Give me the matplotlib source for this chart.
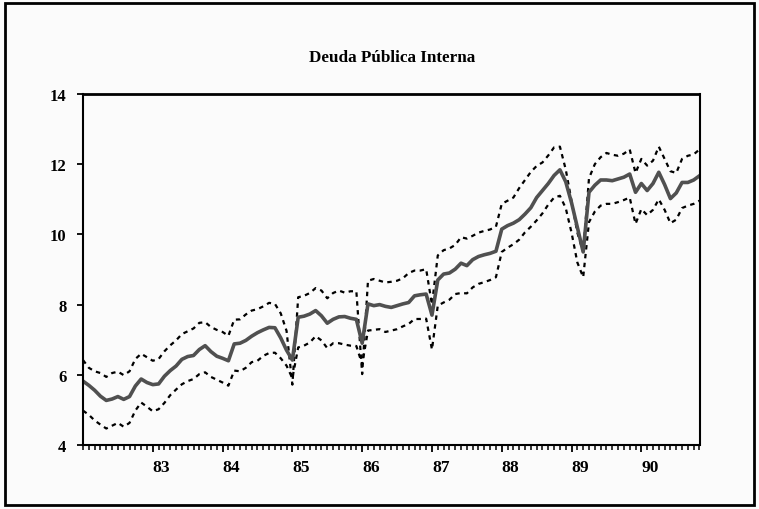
import numpy as np
import matplotlib
matplotlib.use('Agg')
import matplotlib.pyplot as plt
from matplotlib.patches import Rectangle

# Serie mensual 1982:01 - 1990:11
anios = ['83', '84', '85', '86', '87', '88', '89', '90']

centro = [5.82, 5.70, 5.56, 5.39, 5.27, 5.31, 5.38, 5.30, 5.38, 5.68,
          5.88, 5.78, 5.72, 5.74, 5.96, 6.12, 6.25, 6.44, 6.52, 6.55,
          6.72, 6.83, 6.66, 6.53, 6.47, 6.40, 6.88, 6.90, 6.98, 7.10,
          7.20, 7.28, 7.35, 7.34, 7.05, 6.70, 6.42, 7.64, 7.67, 7.73,
          7.83, 7.68, 7.47, 7.58, 7.65, 7.66, 7.61, 7.58, 6.90, 8.02,
          7.97, 8.00, 7.95, 7.92, 7.97, 8.02, 8.06, 8.25, 8.28, 8.30,
          7.70, 8.70, 8.87, 8.90, 9.01, 9.18, 9.11, 9.28, 9.37, 9.42,
          9.46, 9.52, 10.15, 10.25, 10.32, 10.42, 10.58, 10.76, 11.05, 11.25,
          11.45, 11.68, 11.84, 11.50, 10.90, 10.20, 9.50, 11.20, 11.40, 11.55,
          11.55, 11.53, 11.58, 11.63, 11.72, 11.20, 11.45, 11.25, 11.45, 11.77,
          11.42, 11.02, 11.18, 11.48, 11.48, 11.55, 11.67]

superior = [6.42, 6.20, 6.10, 6.05, 5.94, 6.05, 6.09, 5.99, 6.10, 6.45,
            6.60, 6.50, 6.40, 6.45, 6.67, 6.84, 6.98, 7.16, 7.24, 7.32,
            7.48, 7.50, 7.36, 7.28, 7.22, 7.11, 7.57, 7.58, 7.72, 7.83,
            7.87, 7.95, 8.05, 8.02, 7.75, 7.25, 5.72, 8.21, 8.25, 8.33,
            8.47, 8.40, 8.18, 8.33, 8.40, 8.34, 8.38, 8.38, 6.02, 8.68,
            8.73, 8.68, 8.63, 8.65, 8.68, 8.75, 8.90, 8.97, 8.97, 9.01,
            8.00, 9.40, 9.55, 9.60, 9.70, 9.92, 9.88, 9.96, 10.05, 10.10,
            10.14, 10.22, 10.87, 10.96, 11.05, 11.32, 11.55, 11.78, 11.95, 12.05,
            12.25, 12.48, 12.50, 11.85, 10.95, 10.05, 9.50, 11.60, 12.00, 12.20,
            12.32, 12.27, 12.24, 12.30, 12.42, 11.75, 12.15, 11.96, 12.10, 12.50,
            12.15, 11.80, 11.75, 12.15, 12.24, 12.28, 12.42]

inferior = [4.98, 4.86, 4.70, 4.58, 4.47, 4.55, 4.63, 4.52, 4.63, 4.98,
            5.21, 5.09, 4.96, 5.02, 5.20, 5.42, 5.58, 5.73, 5.82, 5.88,
            6.02, 6.07, 5.94, 5.86, 5.78, 5.69, 6.12, 6.10, 6.20, 6.36,
            6.40, 6.54, 6.62, 6.63, 6.47, 6.26, 5.90, 6.78, 6.83, 6.92,
            7.10, 6.98, 6.76, 6.90, 6.90, 6.86, 6.83, 6.82, 6.30, 7.26,
            7.28, 7.30, 7.22, 7.26, 7.30, 7.38, 7.45, 7.59, 7.59, 7.60,
            6.72, 7.97, 8.06, 8.14, 8.30, 8.33, 8.32, 8.49, 8.59, 8.64,
            8.70, 8.78, 9.50, 9.62, 9.72, 9.85, 10.06, 10.22, 10.40, 10.60,
            10.85, 11.05, 11.10, 10.75, 10.05, 9.20, 8.78, 10.35, 10.65, 10.82,
            10.87, 10.87, 10.92, 10.98, 11.05, 10.30, 10.72, 10.55, 10.70, 11.00,
            10.70, 10.32, 10.42, 10.75, 10.82, 10.87, 10.96]

plt.rcParams['font.family'] = ['Liberation Serif', 'DejaVu Serif']
plt.rcParams['font.weight'] = 'bold'

fig = plt.figure(figsize=(7.59, 5.10), dpi=100)
fig.patch.set_facecolor('#fbfbfb')

# marco exterior
fig.patches.append(Rectangle((5 / 759, 4 / 510), 749 / 759, 502 / 510,
                             transform=fig.transFigure, fill=False,
                             edgecolor='black', linewidth=2.0))

ax = fig.add_axes([83 / 759, 64 / 510, 616.5 / 759, 351 / 510])
ax.set_facecolor('#fbfbfb')

meses = np.arange(len(centro))
guion = (0, (2.0, 2.0))
ax.plot(meses, superior, color='black', linewidth=1.6, linestyle=guion)
ax.plot(meses, inferior, color='black', linewidth=1.6, linestyle=guion)
ax.plot(meses, centro, color='#505050', linewidth=2.6)

ax.set_xlim(0, len(centro) - 1)
ax.set_ylim(4, 14)
ax.set_yticks(range(4, 15, 2))
ax.set_xticks(np.arange(12, 12 * (len(anios) + 1), 12))
ax.set_xticklabels(anios, ha='left')
ax.set_xticks(meses, minor=True)

ax.tick_params(axis='x', which='major', direction='out', length=5, width=1.3,
               pad=5, labelsize=12.5)
ax.tick_params(axis='x', which='minor', direction='out', length=3.5, width=1.1)
ax.tick_params(axis='y', direction='out', length=4, width=1.3, pad=8,
               labelsize=12)

for lado in ['left', 'right', 'bottom']:
    ax.spines[lado].set_linewidth(1.5)
ax.spines['top'].set_linewidth(2.0)

fig.text(392 / 759, 1 - 58 / 510, 'Deuda Pública Interna', ha='center',
         va='center', fontsize=12.3, fontweight='bold')

fig.savefig('out.png', dpi=100, facecolor=fig.get_facecolor())
